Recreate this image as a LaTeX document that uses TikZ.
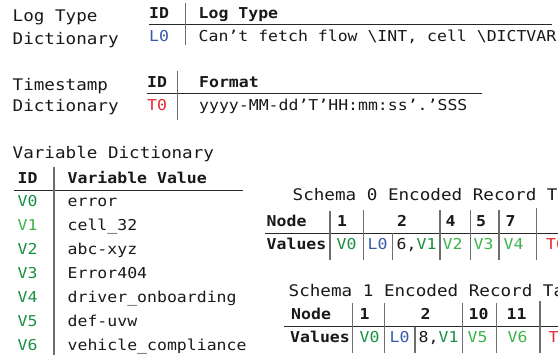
\documentclass[tikz,border=0pt]{standalone}
\usepackage{fontspec}
\setmainfont[FakeStretch=1.1]{DejaVu Sans Mono}
\definecolor{lblue}{RGB}{58,90,175}
\definecolor{tred}{RGB}{235,40,45}
\definecolor{vdark}{RGB}{25,145,65}
\definecolor{vlight}{RGB}{60,180,75}
\definecolor{vrule}{RGB}{110,110,110}
\definecolor{hrule}{RGB}{40,40,40}
\definecolor{ink}{RGB}{25,25,25}
\tikzset{
  txt/.style={inner sep=0pt, anchor=base west, font=\fontsize{15}{18}\selectfont, text=ink},
  hdr/.style={txt, font=\fontsize{15}{18}\selectfont\bfseries},
  lbl/.style={txt, font=\fontsize{16}{19}\selectfont},
  vline/.style={draw=vrule, line width=1.1pt},
  hline/.style={draw=hrule, line width=1pt},
}
\begin{document}
\begin{tikzpicture}[x=1pt,y=-1pt]
\fill[white] (0,0) rectangle (558,356);
\useasboundingbox (0,0) rectangle (558,356);
\clip (0,0) rectangle (558,356);

% ---- Log Type Dictionary
\node[lbl] (ltl1) at (12.5,21.7) {Log Type};
\node[lbl] (ltl2) at (12.5,45) {Dictionary};
\path[hline] (149,24.3) -- (551.7,24.3);
\path[vline] (185.7,2.7) -- (185.7,45);
\node[hdr] (lth1) at (149,18.3) {ID};
\node[hdr] (lth2) at (198.5,18.3) {Log Type};
\node[txt,text=lblue] (ltid) at (149,41.7) {L0};
\node[txt] (ltval) at (198.5,41.7) {Can’t fetch flow \textbackslash INT, cell \textbackslash DICTVAR};

% ---- Timestamp Dictionary
\node[lbl] (tsl1) at (12.5,90) {Timestamp};
\node[lbl] (tsl2) at (12.5,111.7) {Dictionary};
\path[hline] (146.7,93.3) -- (481.7,93.3);
\path[vline] (177.7,71) -- (177.7,120);
\node[hdr] (tsh1) at (147,87.3) {ID};
\node[hdr] (tsh2) at (199,87.3) {Format};
\node[txt,text=tred] (tsid) at (147,110) {T0};
\node[txt] (tsval) at (199,110) {yyyy-MM-dd’T’HH:mm:ss’.’SSS};

% ---- Variable Dictionary
\node[lbl] (vdl) at (12.5,158.3) {Variable Dictionary};
\path[hline] (14,190) -- (243.3,190);
\path[vline] (54,167.3) -- (54,355);
\node[hdr] (vdh1) at (17.5,183.3) {ID};
\node[hdr] (vdh2) at (67.5,183.3) {Variable Value};
\node[txt,text=vdark]  (vid0) at (17.5,206) {V0};
\node[txt,text=vlight] (vid1) at (17.5,230) {V1};
\node[txt,text=vdark]  (vid2) at (17.5,254) {V2};
\node[txt,text=vdark]  (vid3) at (17.5,278) {V3};
\node[txt,text=vdark]  (vid4) at (17.5,302) {V4};
\node[txt,text=vdark]  (vid5) at (17.5,326) {V5};
\node[txt,text=vdark]  (vid6) at (17.5,350) {V6};
\node[txt] (vv0) at (67.5,206) {error};
\node[txt] (vv1) at (67.5,230) {cell\_32};
\node[txt] (vv2) at (67.5,254) {abc-xyz};
\node[txt] (vv3) at (67.5,278) {Error404};
\node[txt] (vv4) at (67.5,302) {driver\_onboarding};
\node[txt] (vv5) at (67.5,326) {def-uvw};
\node[txt] (vv6) at (67.5,350) {vehicle\_compliance};

% ---- Schema 0 Encoded Record Table
\node[lbl] (s0t) at (292.5,200.7) {Schema 0 Encoded Record Table};
\path[hline] (265,233.3) -- (558,233.3);
\path[vline] (330,210.7) -- (330,260);
\path[vline] (363.3,210) -- (363.3,260);
\path[vline] (392.7,233.3) -- (392.7,260);
\path[vline] (440,210) -- (440,260);
\path[vline] (470.7,210) -- (470.7,260);
\path[vline] (499,210) -- (499,260);
\path[vline] (536.3,208) -- (536.3,260);
\node[hdr] (s0n) at (266.5,226) {Node};
\node[hdr] (s0v) at (266.5,249.3) {Values};
\node[hdr] (s0h1) at (337,226) {1};
\node[hdr] (s0h2) at (397,226) {2};
\node[hdr] (s0h4) at (445.5,226) {4};
\node[hdr] (s0h5) at (476,226) {5};
\node[hdr] (s0h7) at (505.5,226) {7};
\node[txt,text=vdark]  (s0c1) at (336.5,249.3) {V0};
\node[txt,text=lblue]  (s0c2) at (367.5,249.3) {L0};
\node[txt]             (s0c3) at (396.5,249.3) {6,\textcolor{vdark}{V1}};
\node[txt,text=vlight] (s0c4) at (442.5,249.3) {V2};
\node[txt,text=vlight] (s0c5) at (473.5,249.3) {V3};
\node[txt,text=vlight] (s0c6) at (503.5,249.3) {V4};
\node[txt,text=tred]   (s0c7) at (546,249.3) {T0};

% ---- Schema 1 Encoded Record Table
\node[lbl] (s1t) at (288.5,296.7) {Schema 1 Encoded Record Table};
\path[hline] (284,326.7) -- (558,326.7);
\path[vline] (352.7,303.3) -- (352.7,353.3);
\path[vline] (384.3,303.3) -- (384.3,353.3);
\path[vline] (415,326.7) -- (415,353.3);
\path[vline] (462.7,303.3) -- (462.7,353.3);
\path[vline] (496.7,303.3) -- (496.7,353.3);
\path[vline] (540,301) -- (540,353.3);
\node[hdr] (s1n) at (291,319.3) {Node};
\node[hdr] (s1v) at (290,342.7) {Values};
\node[hdr] (s1h1) at (359.5,319.3) {1};
\node[hdr] (s1h2) at (420.5,319.3) {2};
\node[hdr] (s1h10) at (468.5,319.3) {10};
\node[hdr] (s1h11) at (506.5,319.3) {11};
\node[txt,text=vdark]  (s1c1) at (359.5,342.7) {V0};
\node[txt,text=lblue]  (s1c2) at (389.5,342.7) {L0};
\node[txt]             (s1c3) at (418.5,342.7) {8,\textcolor{vdark}{V1}};
\node[txt,text=vlight] (s1c4) at (467.5,342.7) {V5};
\node[txt,text=vlight] (s1c5) at (507.5,342.7) {V6};
\node[txt,text=tred]   (s1c6) at (548.5,342.7) {T0};
\end{tikzpicture}
\end{document}
